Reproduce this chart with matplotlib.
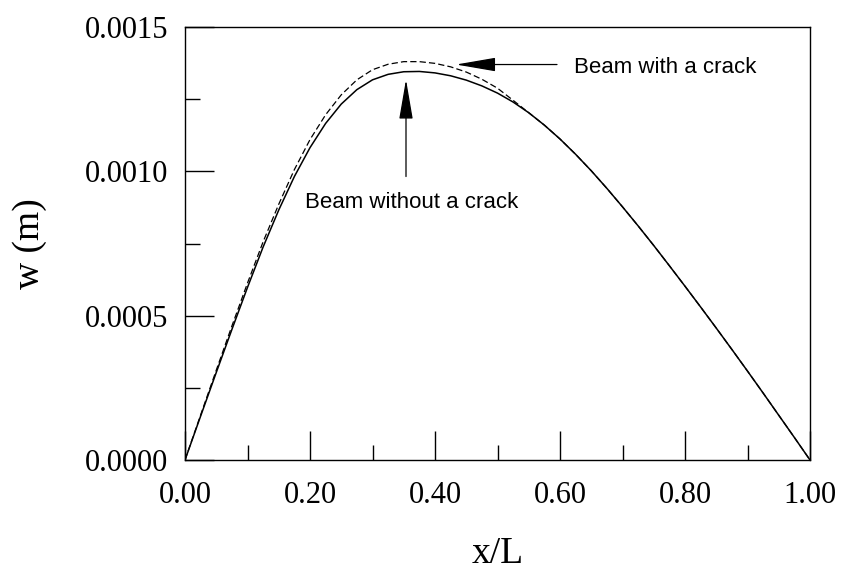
import numpy as np
import matplotlib.pyplot as plt
from matplotlib.ticker import MultipleLocator, FormatStrFormatter

# x/L positions
x = [0.000, 0.025, 0.050, 0.075, 0.100, 0.125, 0.150, 0.175, 0.200, 0.225,
     0.250, 0.275, 0.300, 0.325, 0.350, 0.375, 0.400, 0.425, 0.450, 0.475,
     0.500, 0.525, 0.550, 0.575, 0.600, 0.625, 0.650, 0.675, 0.700, 0.725,
     0.750, 0.775, 0.800, 0.825, 0.850, 0.875, 0.900, 0.925, 0.950, 0.975,
     1.000]

# deflection w (m), beam without a crack
w_intact = [0.000000, 0.000152, 0.000303, 0.000452, 0.000598, 0.000738, 0.000866,
            0.000982, 0.001082, 0.001166, 0.001233, 0.001283, 0.001317, 0.001336,
            0.001345, 0.001346, 0.001341, 0.001331, 0.001316, 0.001296, 0.001271,
            0.001240, 0.001203, 0.001160, 0.001112, 0.001059, 0.001002, 0.000941,
            0.000877, 0.000811, 0.000743, 0.000673, 0.000602, 0.000530, 0.000457,
            0.000383, 0.000308, 0.000232, 0.000155, 0.000078, 0.000000]

# deflection w (m), beam with a crack
w_cracked = [0.000000, 0.000156, 0.000311, 0.000464, 0.000613, 0.000756, 0.000886,
             0.001006, 0.001110, 0.001196, 0.001265, 0.001317, 0.001352, 0.001371,
             0.001380, 0.001380, 0.001374, 0.001362, 0.001344, 0.001319, 0.001288,
             0.001246, 0.001203, 0.001160, 0.001112, 0.001059, 0.001002, 0.000941,
             0.000877, 0.000811, 0.000743, 0.000673, 0.000602, 0.000530, 0.000457,
             0.000383, 0.000308, 0.000232, 0.000155, 0.000078, 0.000000]

serif = 'Liberation Serif'
sans = 'Liberation Sans'

fig = plt.figure(figsize=(8.41, 5.86), dpi=100)
ax = fig.add_axes([185 / 841, 1 - 460 / 586, 625 / 841, 433 / 586])

ax.plot(x, w_cracked, color='black', lw=0.9, dashes=(5, 2.5))
ax.plot(x, w_intact, color='black', lw=1.1)

ax.set_xlim(0, 1)
ax.set_ylim(0, 0.0015)

ax.xaxis.set_major_locator(MultipleLocator(0.2))
ax.xaxis.set_minor_locator(MultipleLocator(0.1))
ax.yaxis.set_major_locator(MultipleLocator(0.0005))
ax.yaxis.set_minor_locator(MultipleLocator(0.00025))
ax.xaxis.set_major_formatter(FormatStrFormatter('%.2f'))
ax.yaxis.set_major_formatter(FormatStrFormatter('%.4f'))

ax.tick_params(which='both', direction='in', top=False, right=False, width=1.0)
ax.tick_params(which='major', length=21)
ax.tick_params(which='minor', length=10.5)
ax.tick_params(axis='x', which='major', pad=15)
ax.tick_params(axis='y', which='major', pad=12)
for lab in ax.get_xticklabels() + ax.get_yticklabels():
    lab.set_fontfamily(serif)
    lab.set_fontsize(22)

for sp in ax.spines.values():
    sp.set_linewidth(1.0)

ax.set_xlabel('x/L', fontfamily=serif, fontsize=27, labelpad=19)
ax.set_ylabel('w (m)', fontfamily=serif, fontsize=27, labelpad=27)

arrow = dict(arrowstyle='-|>,head_length=2.5,head_width=0.43', mutation_scale=10,
             color='black', lw=0.9, shrinkA=0, shrinkB=0)
ax.annotate('', xy=(0.4336, 0.00137), xytext=(0.5952, 0.00137), arrowprops=arrow)
ax.annotate('', xy=(0.3536, 0.001318), xytext=(0.3536, 0.000982), arrowprops=arrow)

ax.text(0.6224, 0.001341, 'Beam with a crack', fontfamily=sans, fontsize=16,
        ha='left', va='baseline')
ax.text(0.192, 0.000874, 'Beam without a crack', fontfamily=sans, fontsize=16,
        ha='left', va='baseline')

fig.savefig('out.png', dpi=100)
